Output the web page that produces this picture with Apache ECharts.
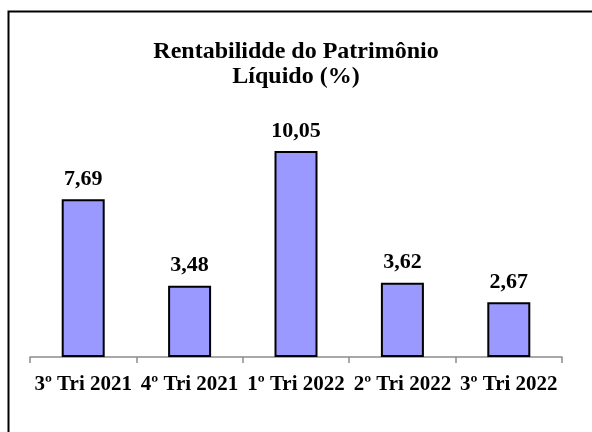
<!DOCTYPE html>
<html>
<head>
<meta charset="utf-8">
<script src="https://cdn.jsdelivr.net/npm/echarts@6/dist/echarts.min.js"></script>
<style>
  html, body { margin: 0; padding: 0; background: #fff; }
  #chart { width: 592px; height: 432px; }
</style>
</head>
<body>
<div id="chart"></div>
<script>
// 数据
const categories = ['3º Tri 2021', '4º Tri 2021', '1º Tri 2022', '2º Tri 2022', '3º Tri 2022'];
const values = [7.69, 3.48, 10.05, 3.62, 2.67];

const serif = '"Liberation Serif", "DejaVu Serif", serif';

const chart = echarts.init(document.getElementById('chart'));

const option = {
  animation: false,
  title: {
    text: 'Rentabilidde do Patrimônio\nLíquido (%)',
    left: 'center',
    top: 34,
    textStyle: {
      fontFamily: serif,
      fontSize: 24,
      fontWeight: 'bold',
      color: '#000',
      lineHeight: 25
    }
  },
  graphic: [
    {
      type: 'polyline',
      shape: { points: [[8.5, 432], [8.5, 11.5], [592, 11.5]] },
      style: { stroke: '#000', lineWidth: 2, fill: null }
    }
  ],
  grid: {
    left: 30,
    right: 30,
    top: 111,
    bottom: 75
  },
  xAxis: {
    type: 'category',
    data: categories,
    axisLine: { lineStyle: { color: '#8c8c8c', width: 1.5 } },
    axisTick: { show: true, length: 6, lineStyle: { color: '#8c8c8c', width: 1.5 } },
    axisLabel: {
      interval: 0,
      margin: 17,
      fontFamily: serif,
      fontSize: 21,
      fontWeight: 'bold',
      color: '#000'
    }
  },
  yAxis: {
    type: 'value',
    min: 0,
    max: 12,
    show: false
  },
  series: [
    {
      type: 'bar',
      data: values,
      barWidth: 43,
      itemStyle: { color: '#9999ff', borderColor: '#000', borderWidth: 2 },
      label: {
        show: true,
        position: 'top',
        distance: 9,
        fontFamily: serif,
        fontSize: 22,
        fontWeight: 'bold',
        color: '#000',
        formatter: p => p.value.toFixed(2).replace('.', ',')
      }
    }
  ]
};

chart.setOption(option);
window.addEventListener('resize', () => chart.resize());
</script>
</body>
</html>
